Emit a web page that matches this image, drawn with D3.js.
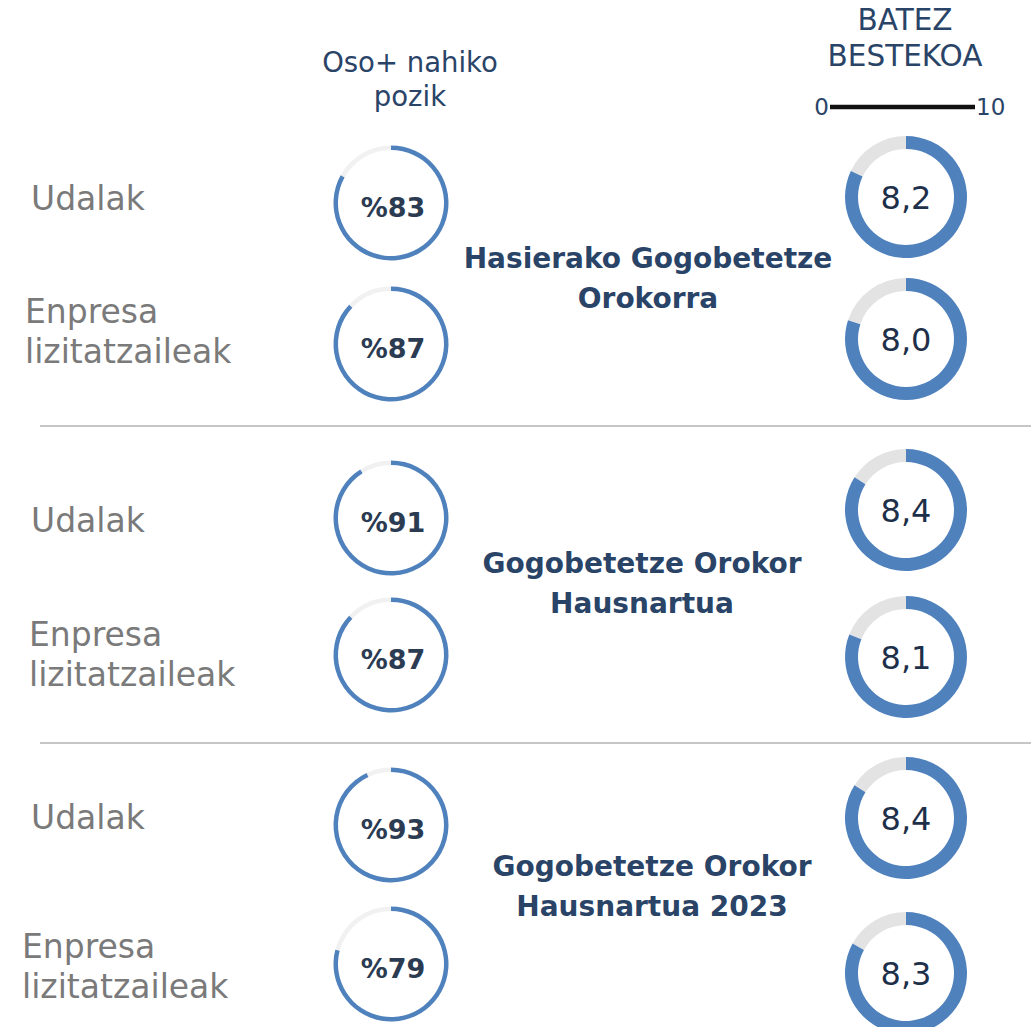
<!DOCTYPE html>
<html>
<head>
<meta charset="utf-8">
<script src="https://cdn.jsdelivr.net/npm/d3@7"></script>
<style>
    body { margin: 0; background: #fff; }
    text { font-family: "DejaVu Sans", sans-serif; }
</style>
</head>
<body>
<div id="chart"></div>
<script>
// data
let groupTitles = [["Hasierako Gogobetetze", "Orokorra"], ["Gogobetetze Orokor", "Hausnartua"], ["Gogobetetze Orokor", "Hausnartua 2023"]];
let rowLabels = [["Udalak"], ["Enpresa", "lizitatzaileak"]];
let pctValues = [83, 87, 91, 87, 93, 79];
let avgValues = [8.2, 8.0, 8.4, 8.1, 8.4, 8.3];
let scaleTicks = [0, 10];

let canvasWidth = 1031;
let canvasHeight = 1027;

// layout
let leftX = 391, rightX = 906;
let leftY = [203, 344, 518, 655, 825, 964];
let rightY = [197, 339, 510, 657, 818, 973];
let labelY = [198, 331, 520, 654, 817, 966];
let labelX = [31, 25, 31, 29, 31, 22];
let titleY = [278, 583, 886];
let titleX = [648, 642, 652];
let sepY = [426, 743];

let blue = "#4f81bd";
let navy = "#2a4468";

let svg = d3.select("#chart")
    .append("svg")
    .attr("width", canvasWidth)
    .attr("height", canvasHeight);

let pctAngle = d3.scaleLinear().domain([0, 100]).range([0, 2 * Math.PI]);
let avgAngle = d3.scaleLinear().domain([0, 10]).range([0, 2 * Math.PI]);

let pctArc = d3.arc().innerRadius(53).outerRadius(57.5);
let avgArc = d3.arc().innerRadius(48).outerRadius(61);

// headers
svg.append("text")
    .attr("x", 410).attr("y", 72)
    .attr("text-anchor", "middle")
    .attr("fill", navy)
    .style("font-size", "27.5px")
    .text("Oso+ nahiko");
svg.append("text")
    .attr("x", 410).attr("y", 106)
    .attr("text-anchor", "middle")
    .attr("fill", navy)
    .style("font-size", "27.5px")
    .text("pozik");

svg.append("text")
    .attr("x", 905).attr("y", 30)
    .attr("text-anchor", "middle")
    .attr("fill", navy)
    .style("font-size", "29.5px")
    .text("BATEZ");
svg.append("text")
    .attr("x", 905).attr("y", 66)
    .attr("text-anchor", "middle")
    .attr("fill", navy)
    .style("font-size", "29.5px")
    .text("BESTEKOA");

// 0 - 10 scale bar
let barScale = d3.scaleLinear().domain(scaleTicks).range([830, 975]);
svg.append("line")
    .attr("x1", barScale(0)).attr("x2", barScale(10))
    .attr("y1", 107).attr("y2", 107)
    .attr("stroke", "#111")
    .attr("stroke-width", 4.5);
svg.append("text")
    .attr("x", barScale(0) - 1).attr("y", 115)
    .attr("text-anchor", "end")
    .attr("fill", navy)
    .style("font-size", "23px")
    .text(scaleTicks[0]);
svg.append("text")
    .attr("x", barScale(10) + 1).attr("y", 115)
    .attr("text-anchor", "start")
    .attr("fill", navy)
    .style("font-size", "23px")
    .text(scaleTicks[1]);

// separators
sepY.forEach(y => {
    svg.append("line")
        .attr("x1", 40).attr("x2", canvasWidth)
        .attr("y1", y).attr("y2", y)
        .attr("stroke", "#c6c6c6")
        .attr("stroke-width", 2);
});

// row labels
pctValues.forEach((v, i) => {
    let lines = rowLabels[i % 2];
    let y0 = labelY[i] - (lines.length - 1) * 20;
    lines.forEach((line, j) => {
        svg.append("text")
            .attr("x", labelX[i])
            .attr("y", y0 + j * 40)
            .attr("dy", "0.36em")
            .attr("fill", "#7a7a7a")
            .style("font-size", "33px")
            .text(line);
    });
});

// group titles
groupTitles.forEach((lines, g) => {
    lines.forEach((line, j) => {
        svg.append("text")
            .attr("x", titleX[g])
            .attr("y", titleY[g] - 20 + j * 40)
            .attr("dy", "0.36em")
            .attr("text-anchor", "middle")
            .attr("fill", navy)
            .style("font-size", "28px")
            .style("font-weight", "bold")
            .text(line);
    });
});

// left donuts (percent satisfied)
let left = svg.selectAll(".pct")
    .data(pctValues)
    .join("g")
    .attr("class", "pct")
    .attr("transform", (d, i) => "translate(" + leftX + ", " + leftY[i] + ")");

left.append("path")
    .attr("fill", "#f1f1f1")
    .attr("d", d => pctArc({startAngle: pctAngle(d), endAngle: pctAngle(100)}));
left.append("path")
    .attr("fill", blue)
    .attr("d", d => pctArc({startAngle: 0, endAngle: pctAngle(d)}));
left.append("text")
    .attr("x", 2)
    .attr("y", 4)
    .attr("dy", "0.36em")
    .attr("text-anchor", "middle")
    .attr("fill", "#2b3b52")
    .style("font-size", "27px")
    .style("font-weight", "bold")
    .text(d => "%" + d);

// right donuts (average score)
let right = svg.selectAll(".avg")
    .data(avgValues)
    .join("g")
    .attr("class", "avg")
    .attr("transform", (d, i) => "translate(" + rightX + ", " + rightY[i] + ")");

right.append("path")
    .attr("fill", "#e3e3e3")
    .attr("d", d => avgArc({startAngle: avgAngle(d), endAngle: avgAngle(10)}));
right.append("path")
    .attr("fill", blue)
    .attr("d", d => avgArc({startAngle: 0, endAngle: avgAngle(d)}));
right.append("text")
    .attr("x", 0)
    .attr("y", 0)
    .attr("dy", "0.36em")
    .attr("text-anchor", "middle")
    .attr("fill", "#1e2f4a")
    .style("font-size", "32px")
    .text(d => d3.format(".1f")(d).replace(".", ","));
</script>
</body>
</html>
